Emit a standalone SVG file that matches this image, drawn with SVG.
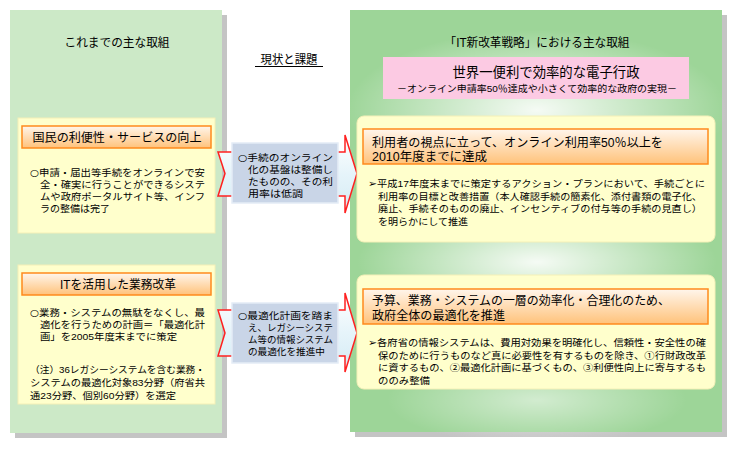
<svg xmlns="http://www.w3.org/2000/svg" width="737" height="449" viewBox="0 0 737 449">
<defs>
<style>
text{font-family:"Liberation Sans","Noto Sans CJK JP","Noto Sans CJK SC",sans-serif;fill:#000}
.t12{font-size:12px}
.t10{font-size:9.5px}
.t13{font-size:12px}
.mk{font-family:"DejaVu Sans",sans-serif;font-size:10px}
.ci{font-family:"DejaVu Sans",sans-serif;font-size:9.5px}
.hdr{fill:url(#hg);stroke:#ff8a1c;stroke-width:1.5}
.ybox{fill:#ffffcc;stroke:#f4f0b8;stroke-width:1}
.bbox{fill:#c9d5e7;stroke:#e4ecf6;stroke-width:1.5}
.arr{fill:url(#ag);stroke:#ff2020;stroke-width:1.5}
.shadow{fill:#c4c4c4}
</style>
<linearGradient id="hg" x1="0" y1="0" x2="0" y2="1">
<stop offset="0" stop-color="#fff6ec"/>
<stop offset="1" stop-color="#ffc27a"/>
</linearGradient>
<linearGradient id="ag" x1="0" y1="0" x2="0" y2="1">
<stop offset="0" stop-color="#ffffff"/>
<stop offset="0.5" stop-color="#e6f4fa"/>
<stop offset="1" stop-color="#d4ebf4"/>
</linearGradient>
<radialGradient id="rg1" cx="0.5" cy="0.5" r="0.5">
<stop offset="0" stop-color="#ffffff" stop-opacity="0.9"/>
<stop offset="1" stop-color="#ffffff" stop-opacity="0"/>
</radialGradient>
</defs>

<g id="left-panel">
<rect class="shadow" x="15" y="15" width="212" height="423"/>
<rect x="10" y="10" width="212" height="423" fill="#cce9c7"/>
<text class="t12" x="117" y="47" text-anchor="middle" textLength="105" lengthAdjust="spacingAndGlyphs">これまでの主な取組</text>
</g>

<g id="right-panel">
<rect class="shadow" x="355" y="15" width="372" height="422"/>
<rect x="350" y="10" width="372" height="422" fill="#9dd598"/>
<ellipse cx="537" cy="110" rx="190" ry="80" fill="url(#rg1)"/>
<ellipse cx="537" cy="262" rx="180" ry="60" fill="url(#rg1)"/>
<ellipse cx="537" cy="400" rx="150" ry="45" fill="url(#rg1)" opacity="0.6"/>
<text class="t12" x="537" y="47" text-anchor="middle" textLength="185" lengthAdjust="spacingAndGlyphs">「IT新改革戦略」における主な取組</text>
</g>

<g id="vision">
<rect x="383" y="57" width="306" height="42" fill="#fccae3"/>
<text x="546" y="77" font-size="14" text-anchor="middle" textLength="187" lengthAdjust="spacingAndGlyphs">世界一便利で効率的な電子行政</text>
<text class="t10" x="537" y="92" text-anchor="middle" textLength="280" lengthAdjust="spacingAndGlyphs">－オンライン申請率50％達成や小さくて効率的な政府の実現－</text>
</g>

<g id="middle-label">
<text class="t12" x="289" y="64" text-anchor="middle" textLength="57" lengthAdjust="spacingAndGlyphs">現状と課題</text>
<line x1="255" y1="66.5" x2="323" y2="66.5" stroke="#000" stroke-width="1"/>
</g>

<g id="connectors">
<path class="arr" d="M218,152 L345,152 L345,135 L357,173.5 L345,213 L345,196 L218,196 L225,173.5 Z"/>
<path class="arr" d="M218,310 L345,310 L345,293 L357,333 L345,372 L345,356 L218,356 L225,333 Z"/>
</g>

<g id="left-box-1">
<rect class="ybox" x="18" y="118" width="197" height="115"/>
<rect class="hdr" x="22" y="126" width="189" height="22"/>
<text class="t12" x="117" y="141.5" text-anchor="middle" textLength="169" lengthAdjust="spacingAndGlyphs">国民の利便性・サービスの向上</text>
<text class="t10" x="30" y="176" textLength="175" lengthAdjust="spacingAndGlyphs"><tspan class="ci">○</tspan>申請・届出等手続をオンラインで安</text>
<text class="t10" x="40" y="188" textLength="165" lengthAdjust="spacingAndGlyphs">全・確実に行うことができるシステ</text>
<text class="t10" x="40" y="200" textLength="165" lengthAdjust="spacingAndGlyphs">ムや政府ポータルサイト等、インフ</text>
<text class="t10" x="40" y="212" textLength="70" lengthAdjust="spacingAndGlyphs">ラの整備は完了</text>
</g>

<g id="left-box-2">
<rect class="ybox" x="18" y="265" width="197" height="139"/>
<rect class="hdr" x="22" y="273" width="189" height="22"/>
<text class="t12" x="118" y="288.5" text-anchor="middle" textLength="116" lengthAdjust="spacingAndGlyphs">ITを活用した業務改革</text>
<text class="t10" x="30" y="316" textLength="175" lengthAdjust="spacingAndGlyphs"><tspan class="ci">○</tspan>業務・システムの無駄をなくし、最</text>
<text class="t10" x="40" y="328" textLength="165" lengthAdjust="spacingAndGlyphs">適化を行うための計画＝「最適化計</text>
<text class="t10" x="40" y="340" textLength="137" lengthAdjust="spacingAndGlyphs">画」を2005年度末までに策定</text>
<text class="t10" x="30" y="373" textLength="175" lengthAdjust="spacingAndGlyphs">（注）36レガシーシステムを含む業務・</text>
<text class="t10" x="30" y="386" textLength="175" lengthAdjust="spacingAndGlyphs">システムの最適化対象83分野（府省共</text>
<text class="t10" x="30" y="399" textLength="146" lengthAdjust="spacingAndGlyphs">通23分野、個別60分野）を選定</text>
</g>

<g id="issue-1">
<rect class="bbox" x="232" y="143" width="106" height="60"/>
<text class="t10" x="238" y="161" textLength="95" lengthAdjust="spacingAndGlyphs"><tspan class="ci">○</tspan>手続のオンライン</text>
<text class="t10" x="248" y="173" textLength="85" lengthAdjust="spacingAndGlyphs">化の基盤は整備し</text>
<text class="t10" x="248" y="185" textLength="85" lengthAdjust="spacingAndGlyphs">たものの、その利</text>
<text class="t10" x="248" y="197" textLength="55" lengthAdjust="spacingAndGlyphs">用率は低調</text>
</g>

<g id="issue-2">
<rect class="bbox" x="232" y="303" width="106" height="60"/>
<text class="t10" x="238" y="319" textLength="95" lengthAdjust="spacingAndGlyphs"><tspan class="ci">○</tspan>最適化計画を踏ま</text>
<text class="t10" x="248" y="331" textLength="85" lengthAdjust="spacingAndGlyphs">え、レガシーシステ</text>
<text class="t10" x="248" y="343" textLength="85" lengthAdjust="spacingAndGlyphs">ム等の情報システム</text>
<text class="t10" x="248" y="355" textLength="77" lengthAdjust="spacingAndGlyphs">の最適化を推進中</text>
</g>

<g id="right-box-1">
<rect class="ybox" x="357" y="116" width="358" height="126" rx="7"/>
<rect class="hdr" x="363" y="129" width="345" height="35"/>
<text class="t13" x="372" y="146.5" textLength="291" lengthAdjust="spacingAndGlyphs">利用者の視点に立って、オンライン利用率50％以上を</text>
<text class="t13" x="372" y="160.5" textLength="115" lengthAdjust="spacingAndGlyphs">2010年度までに達成</text>
<text class="t10" x="368" y="187" textLength="337" lengthAdjust="spacingAndGlyphs"><tspan class="mk">➢</tspan>平成17年度末までに策定するアクション・プランにおいて、手続ごとに</text>
<text class="t10" x="378" y="199.5" textLength="324" lengthAdjust="spacingAndGlyphs">利用率の目標と改善措置（本人確認手続の簡素化、添付書類の電子化、</text>
<text class="t10" x="378" y="212" textLength="324" lengthAdjust="spacingAndGlyphs">廃止、手続そのものの廃止、インセンティブの付与等の手続の見直し）</text>
<text class="t10" x="378" y="224.5" textLength="90" lengthAdjust="spacingAndGlyphs">を明らかにして推進</text>
</g>

<g id="right-box-2">
<rect class="ybox" x="357" y="275" width="358" height="114" rx="7"/>
<rect class="hdr" x="363" y="289" width="345" height="35"/>
<text class="t13" x="372" y="305" textLength="298" lengthAdjust="spacingAndGlyphs">予算、業務・システムの一層の効率化・合理化のため、</text>
<text class="t13" x="372" y="319.5" textLength="133" lengthAdjust="spacingAndGlyphs">政府全体の最適化を推進</text>
<text class="t10" x="368" y="346" textLength="338" lengthAdjust="spacingAndGlyphs"><tspan class="mk">➢</tspan>各府省の情報システムは、費用対効果を明確化し、信頼性・安全性の確</text>
<text class="t10" x="378" y="358.5" textLength="328" lengthAdjust="spacingAndGlyphs">保のために行うものなど真に必要性を有するものを除き、①行財政改革</text>
<text class="t10" x="378" y="371" textLength="328" lengthAdjust="spacingAndGlyphs">に資するもの、②最適化計画に基づくもの、③利便性向上に寄与するも</text>
<text class="t10" x="378" y="383.5" textLength="52" lengthAdjust="spacingAndGlyphs">ののみ整備</text>
</g>
</svg>
